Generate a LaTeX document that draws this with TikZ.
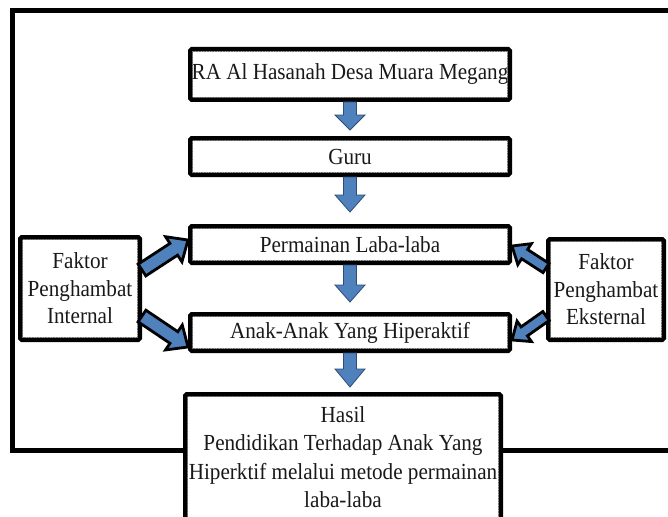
\documentclass[tikz,border=0pt]{standalone}
\usepackage{fontspec}
\setmainfont{Liberation Serif}[FakeStretch=0.92]
\usetikzlibrary{calc}
\definecolor{arrblue}{HTML}{4F81BD}
\definecolor{arredge}{HTML}{2E4D75}
% #1 style, #2 tail, #3 tip, #4 shaft half width, #5 head half width, #6 head length
\newcommand\blockarrow[6]{%
  \path ($(#3)!#6!(#2)$) coordinate (bahead);
  \draw[#1] ($(#2)!#4!90:(#3)$) -- ($(bahead)!#4!90:(#3)$) -- ($(bahead)!#5!90:(#3)$) -- (#3)
    -- ($(bahead)!#5!-90:(#3)$) -- ($(bahead)!#4!-90:(#3)$) -- ($(#2)!#4!-90:(#3)$) -- cycle;}
\begin{document}
\begin{tikzpicture}[x=1pt,y=-1pt,
  box/.style={draw=black, line width=4.5pt, fill=white, rounded corners=1.5pt,
    inner xsep=1pt, inner ysep=0pt, align=center, text=black!90,
    font=\fontsize{23}{28.5}\selectfont},
  sidebox/.style={box, font=\fontsize{23}{27.5}\selectfont},
  varr/.style={fill=arrblue, draw=arredge, line width=0.8pt, line join=miter},
  darr/.style={fill=arrblue, draw=black, line width=2.8pt, line join=miter},
  inset/.style={densely dotted, line width=0.6pt, black!55}]
\useasboundingbox (0,0) rectangle (668,516);
\fill[white] (0,0) rectangle (668,516);
% outer frame
\draw[line width=5pt] (700,11) -- (12,11) -- (12,450) -- (700,450);
% boxes
\node[box, minimum width=319.5pt, minimum height=50.5pt] (b1) at (350,74.5) {RA Al Hasanah Desa Muara Megang};
\node[box, minimum width=319.5pt, minimum height=36.5pt] (b2) at (350,156.5) {Guru};
\node[box, minimum width=319.5pt, minimum height=36.5pt] (b3) at (350,244.5) {Permainan Laba-laba};
\node[box, minimum width=319.5pt, minimum height=36.5pt] (b4) at (350,332.5) {Anak-Anak Yang Hiperaktif};
\node[box, minimum width=315.5pt, minimum height=125.5pt] (b5) at (343,457) {Hasil\\Pendidikan Terhadap Anak Yang\\Hiperktif melalui metode permainan\\laba-laba};
\node[sidebox, minimum width=119.5pt, minimum height=102.5pt] (fl) at (80,288.5) {Faktor\\Penghambat\\Internal};
\node[sidebox, minimum width=115.5pt, minimum height=100.5pt] (fr) at (606,289.5) {Faktor\\Penghambat\\Eksternal};
\foreach \n in {b1,b2,b3,b4,b5,fl,fr}
  \draw[inset] ([shift={(4.5,4.5)}]\n.north west) rectangle ([shift={(-4.5,-4.5)}]\n.south east);
% vertical arrows
\coordinate (a1e) at ($(b2.north)+(0,-6)$);
\coordinate (a2e) at ($(b3.north)+(0,-12)$);
\coordinate (a3e) at ($(b4.north)+(0,-10)$);
\coordinate (a4e) at ($(b4.south |- b5.north)+(0,-5)$);
\blockarrow{varr}{b1.south}{a1e}{6.5pt}{15pt}{15pt}
\blockarrow{varr}{b2.south}{a2e}{6.5pt}{15pt}{17pt}
\blockarrow{varr}{b3.south}{a3e}{6.5pt}{15pt}{17pt}
\blockarrow{varr}{b4.south}{a4e}{6.5pt}{15pt}{18pt}
% diagonal arrows
\coordinate (l1s) at ($(fl.east)+(0,-18.5)$);
\coordinate (l1e) at ($(b3.west)+(0,-4.5)$);
\coordinate (l2s) at ($(fl.east)+(0,27.5)$);
\coordinate (l2e) at ($(b4.west)+(0,14.5)$);
\coordinate (r1s) at ($(fr.west)+(0,-21.5)$);
\coordinate (r1e) at ($(b3.east)+(0,1.5)$);
\coordinate (r2s) at ($(fr.west)+(0,26.5)$);
\coordinate (r2e) at ($(b4.east)+(0,7.5)$);
\blockarrow{darr}{l1s}{l1e}{7pt}{15pt}{17pt}
\blockarrow{darr}{l2s}{l2e}{7pt}{15pt}{17pt}
\blockarrow{darr}{r1s}{r1e}{5.5pt}{12.5pt}{15pt}
\blockarrow{darr}{r2s}{r2e}{5.5pt}{12.5pt}{15pt}
\end{tikzpicture}
\end{document}
